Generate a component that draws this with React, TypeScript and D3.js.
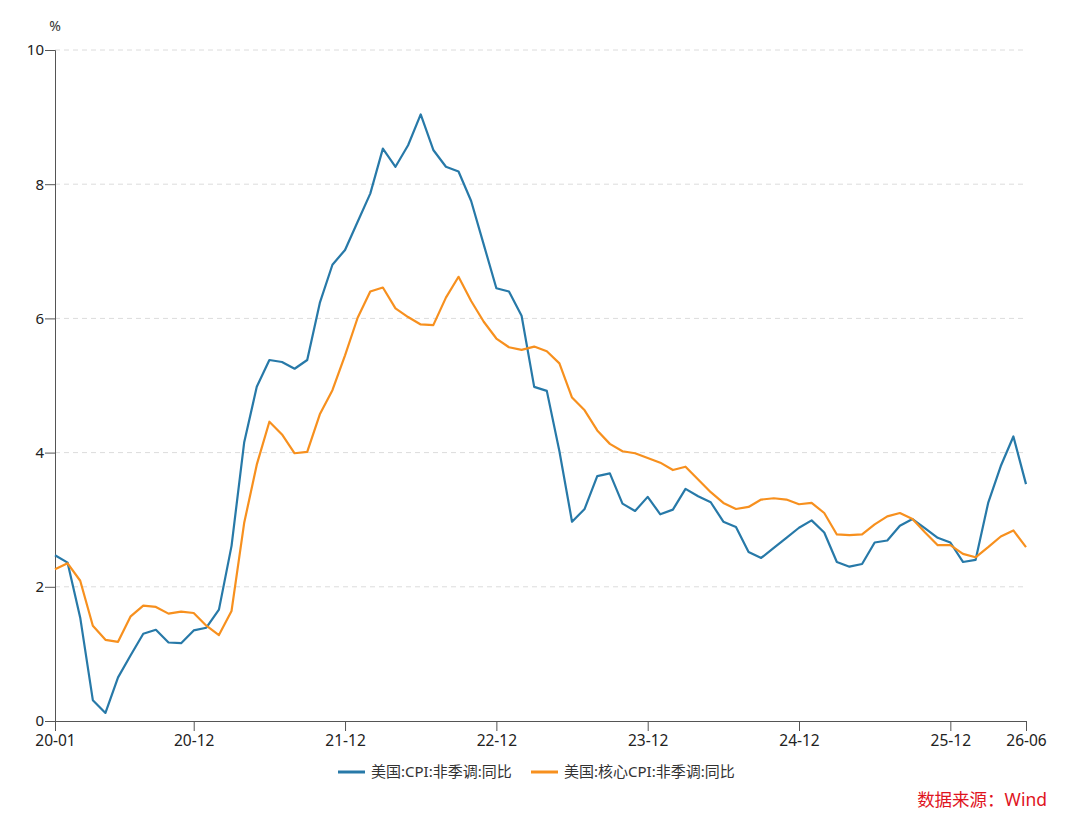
import React, { useEffect, useRef } from 'react';
import * as d3 from 'd3';

// US CPI YoY (non seasonally adjusted), 2020-01 .. 2026-06
const cpi = [
  2.47, 2.36, 1.54, 0.31, 0.12, 0.65, 0.98, 1.3, 1.36, 1.17, 1.16, 1.35,
  1.39, 1.66, 2.61, 4.15, 4.98, 5.38, 5.35, 5.25, 5.38, 6.23, 6.8, 7.02,
  7.44, 7.86, 8.53, 8.26, 8.58, 9.04, 8.51, 8.26, 8.19, 7.75, 7.1, 6.45,
  6.4, 6.04, 4.98, 4.92, 4.02, 2.97, 3.16, 3.65, 3.69, 3.24, 3.13, 3.34,
  3.08, 3.15, 3.46, 3.35, 3.26, 2.97, 2.89, 2.52, 2.43, 2.58, 2.73, 2.88,
  2.99, 2.81, 2.37, 2.3, 2.34, 2.66, 2.69, 2.91, 3.01, 2.87, 2.73, 2.66,
  2.37, 2.4, 3.25, 3.8, 4.24, 3.53,
];

const coreCpi = [
  2.26, 2.35, 2.09, 1.42, 1.21, 1.18, 1.56, 1.72, 1.7, 1.6, 1.63, 1.61,
  1.42, 1.28, 1.64, 2.95, 3.82, 4.46, 4.27, 3.99, 4.01, 4.57, 4.93, 5.45,
  6.01, 6.4, 6.46, 6.15, 6.02, 5.91, 5.9, 6.31, 6.62, 6.26, 5.95, 5.7,
  5.57, 5.53, 5.58, 5.51, 5.33, 4.82, 4.63, 4.33, 4.13, 4.02, 3.99, 3.92,
  3.85, 3.74, 3.79, 3.6, 3.41, 3.25, 3.16, 3.19, 3.3, 3.32, 3.3, 3.23,
  3.25, 3.1, 2.78, 2.77, 2.78, 2.93, 3.05, 3.1, 3.01, 2.81, 2.62, 2.62,
  2.49, 2.44, 2.59, 2.75, 2.84, 2.59,
];

// month labels yy-mm
const months = d3
  .timeMonths(new Date(2020, 0, 1), new Date(2026, 6, 1))
  .map((d) => d3.timeFormat('%y-%m')(d));

const xTicks = ['20-01', '20-12', '21-12', '22-12', '23-12', '24-12', '25-12', '26-06'];
const yTicks = [0, 2, 4, 6, 8, 10];

const seriesNames = ['美国:CPI:非季调:同比', '美国:核心CPI:非季调:同比'];
const seriesColors = ['#2779a8', '#f7901e'];

const FONT = "'Noto Sans', 'Noto Sans CJK SC', sans-serif";

export default function App() {
  const svgRef = useRef<SVGSVGElement | null>(null);

  useEffect(() => {
    if (!svgRef.current) return;
    const width = 1080;
    const height = 826;
    const left = 55;
    const right = 1026;
    const top = 50;
    const bottom = 721;

    const svg = d3.select(svgRef.current);
    svg.selectAll('*').remove();

    const x = d3.scalePoint<string>().domain(months).range([left, right]);
    const y = d3.scaleLinear().domain([0, 10]).range([bottom, top]);

    // dashed grid
    svg
      .append('g')
      .selectAll('line')
      .data(yTicks.filter((t) => t > 0))
      .join('line')
      .attr('x1', left)
      .attr('x2', right)
      .attr('y1', (d) => y(d))
      .attr('y2', (d) => y(d))
      .attr('stroke', '#dcdcdc')
      .attr('stroke-dasharray', '5,4');

    // y axis
    const yAxis = svg
      .append('g')
      .attr('transform', `translate(${left},0)`)
      .call(d3.axisLeft(y).tickValues(yTicks).tickSize(10).tickPadding(1).tickFormat(d3.format('d')));
    yAxis.select('.domain').attr('stroke', '#555');
    yAxis.selectAll('.tick line').attr('stroke', '#555');
    yAxis
      .selectAll('.tick text')
      .attr('font-family', FONT)
      .attr('font-size', 15)
      .attr('fill', '#222');

    // x axis
    const xAxis = svg
      .append('g')
      .attr('transform', `translate(0,${bottom})`)
      .call(d3.axisBottom(x).tickValues(xTicks).tickSize(10).tickSizeOuter(0).tickPadding(4));
    xAxis.select('.domain').attr('stroke', '#555');
    xAxis.selectAll('.tick line').attr('stroke', '#555');
    xAxis
      .selectAll('.tick text')
      .attr('font-family', FONT)
      .attr('font-size', 15.5)
      .attr('fill', '#222');

    // unit label
    svg
      .append('text')
      .attr('x', left)
      .attr('y', 31)
      .attr('text-anchor', 'middle')
      .attr('font-family', FONT)
      .attr('font-size', 14)
      .attr('fill', '#333')
      .text('%');

    // lines
    const line = d3
      .line<number>()
      .x((_, i) => x(months[i]) as number)
      .y((d) => y(d));

    [cpi, coreCpi].forEach((values, i) => {
      svg
        .append('path')
        .datum(values)
        .attr('d', line)
        .attr('fill', 'none')
        .attr('stroke', seriesColors[i])
        .attr('stroke-width', 2.2)
        .attr('stroke-linejoin', 'round');
    });

    // legend
    const legendX = [338, 531];
    seriesNames.forEach((name, i) => {
      const g = svg.append('g').attr('transform', `translate(${legendX[i]},772)`);
      g.append('line')
        .attr('x1', 0)
        .attr('x2', 27)
        .attr('stroke', seriesColors[i])
        .attr('stroke-width', 3);
      g.append('text')
        .attr('x', 33)
        .attr('dy', '0.35em')
        .attr('font-family', FONT)
        .attr('font-size', 15)
        .attr('fill', '#333')
        .text(name);
    });

    // source
    svg
      .append('text')
      .attr('x', 1047)
      .attr('y', 806)
      .attr('text-anchor', 'end')
      .attr('font-family', FONT)
      .attr('font-size', 17.5)
      .attr('fill', '#e0141e')
      .text('数据来源：Wind');

    svg.attr('width', width).attr('height', height);
  }, []);

  return (
    <svg
      ref={svgRef}
      width={1080}
      height={826}
      style={{ position: 'absolute', left: 0, top: 0, background: '#fff' }}
    />
  );
}
